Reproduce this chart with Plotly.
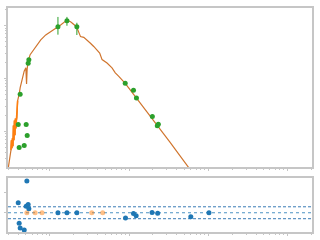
import numpy as np
import plotly.graph_objects as go

# ---- model SED (log10 wavelength, log10 flux) ----
model_logwave = [-1.5226, -1.5100, -1.4975, -1.4887, -1.4825, -1.4762, -1.4699, -1.4637,
                 -1.4574, -1.4511, -1.4449, -1.4386, -1.4323, -1.4261, -1.4198, -1.4135,
                 -1.4048, -1.3972, -1.3847, -1.3722, -1.3546, -1.3421, -1.3221, -1.3008,
                 -1.2920, -1.2845, -1.2719, -1.2469, -1.2168, -1.1754, -1.1128, -1.0501,
                 -0.9875, -0.9248, -0.8622, -0.7870, -0.7368, -0.6617, -0.6328, -0.6115,
                 -0.5702, -0.5276, -0.4862, -0.4449, -0.4023, -0.3697, -0.3396, -0.2769,
                 -0.2143, -0.1729, -0.1316, -0.0476, 0.0150, 0.1404, 0.2657, 0.3910,
                 0.5163, 0.6416, 0.7419, 0.8922]
model_logflux = [-1.6916, -1.5738, -1.4486, -1.3551, -1.1682, -1.3178, -1.1308, -1.2804,
                 -0.8879, -1.1682, -0.7944, -1.0748, -0.7570, -0.9439, -0.7944, -0.7383,
                 -0.4206, -0.3271, -0.2897, -0.1720, -0.0467, 0.0150, 0.1402, 0.2019,
                 -0.1028, 0.1776, 0.3271, 0.4523, 0.5140, 0.6075, 0.7327, 0.8262,
                 0.8879, 0.9495, 1.0131, 1.1028, 1.0748, 0.9813, 0.8879, 0.7944,
                 0.7813, 0.7327, 0.6692, 0.6075, 0.5458, 0.4822, 0.3589, 0.2953,
                 0.2019, 0.1084, 0.0467, -0.0897, -0.2150, -0.4579, -0.7009, -0.9533,
                 -1.2056, -1.4579, -1.6729, -1.9720]
uv_start, uv_end = 3, 17  # model points of the noisy UV part

# ---- observed photometry ----
obs_wave = [0.0401, 0.0412, 0.0424, 0.0477, 0.0505, 0.0520, 0.0535, 0.0546,
            0.127, 0.165, 0.220, 0.896, 1.139, 1.242, 1.97, 2.275, 2.344]
obs_flux = [0.135, 0.0496, 0.507, 0.0541, 0.135, 0.0832, 1.95, 2.26,
            9.58, 12.4, 9.58, 0.813, 0.602, 0.427, 0.1905, 0.128, 0.137]
obs_err_plus = [0, 0, 0, 0, 0, 0, 0.15, 0.2, 5.1, 2.3, 1.8, 0, 0, 0, 0, 0, 0]
obs_err_minus = [0, 0, 0, 0, 0, 0, 0.15, 0.2, 2.8, 2.4, 2.9, 0, 0, 0, 0, 0, 0]

# ---- residuals ----
res_wave = [0.0401, 0.0412, 0.0424, 0.0477, 0.0505, 0.0515, 0.0535, 0.0546,
            0.127, 0.165, 0.220, 0.904, 1.139, 1.231, 1.953, 2.30, 6.02, 10.2]
res_val = [0.50, -0.535, -0.77, -0.87, 0.33, 1.60, 0.415, 0.20,
           0.0, 0.0, 0.0, -0.27, -0.035, -0.15, 0.015, -0.02, -0.20, 0.0]
lim_wave = [0.0515, 0.0655, 0.080, 0.339, 0.466]
lim_val = [0.0, 0.0, 0.0, 0.0, 0.0]
band = 0.3

mw = [10 ** v for v in model_logwave]
mf = [10 ** v for v in model_logflux]

fig = go.Figure()
fig.add_trace(go.Scatter(x=mw, y=mf, mode="lines", line=dict(color="#d0752e", width=1.2),
                         xaxis="x", yaxis="y", showlegend=False))
fig.add_trace(go.Scatter(x=mw[uv_start:uv_end], y=mf[uv_start:uv_end], mode="lines",
                         line=dict(color="#ff7f0e", width=1.6),
                         xaxis="x", yaxis="y", showlegend=False))
fig.add_trace(go.Scatter(x=obs_wave, y=obs_flux, mode="markers",
                         marker=dict(color="#2ca02c", size=5),
                         error_y=dict(type="data", array=obs_err_plus, arrayminus=obs_err_minus,
                                      color="#2ca02c", thickness=1, width=0),
                         xaxis="x", yaxis="y", showlegend=False))

xr = [-1.526, 2.308]
for yv, dash, col in [(band, "3px,2px", "#3a7bb5"), (-band, "3px,2px", "#3a7bb5"),
                      (0, "dot", "rgba(31,119,180,0.8)")]:
    fig.add_trace(go.Scatter(x=[10 ** xr[0], 10 ** xr[1]], y=[yv, yv], mode="lines",
                             line=dict(color=col, width=1, dash=dash),
                             xaxis="x2", yaxis="y2", showlegend=False))
fig.add_trace(go.Scatter(x=lim_wave, y=lim_val, mode="markers",
                         marker=dict(color="rgba(255,127,14,0.5)", size=5),
                         xaxis="x2", yaxis="y2", showlegend=False))
fig.add_trace(go.Scatter(x=res_wave, y=res_val, mode="markers",
                         marker=dict(color="#1f77b4", size=5),
                         xaxis="x2", yaxis="y2", showlegend=False))

frame = "#c6c6c6"
common = dict(showgrid=False, zeroline=False, showline=True, linecolor=frame, linewidth=2,
              mirror=True, ticks="outside", ticklen=2, tickcolor=frame, showticklabels=False)

fig.update_layout(
    width=320, height=240,
    margin=dict(l=7, r=7, t=6, b=7),
    paper_bgcolor="white", plot_bgcolor="white",
    xaxis=dict(type="log", range=xr, domain=[0, 1], anchor="y", dtick=1,
               minor=dict(ticks="outside", ticklen=1, tickcolor=frame), **common),
    yaxis=dict(type="log", range=[-1.682, 1.336], domain=[0.2885, 1], anchor="x", dtick=1,
               minor=dict(ticks="outside", ticklen=1, tickcolor=frame), **common),
    xaxis2=dict(type="log", range=xr, domain=[0, 1], anchor="y2", dtick=1,
                minor=dict(ticks="outside", ticklen=1, tickcolor=frame), **common),
    yaxis2=dict(range=[-0.97, 1.765], domain=[0, 0.2423], anchor="x2", dtick=1, **common),
)

fig.write_html("out.html")
